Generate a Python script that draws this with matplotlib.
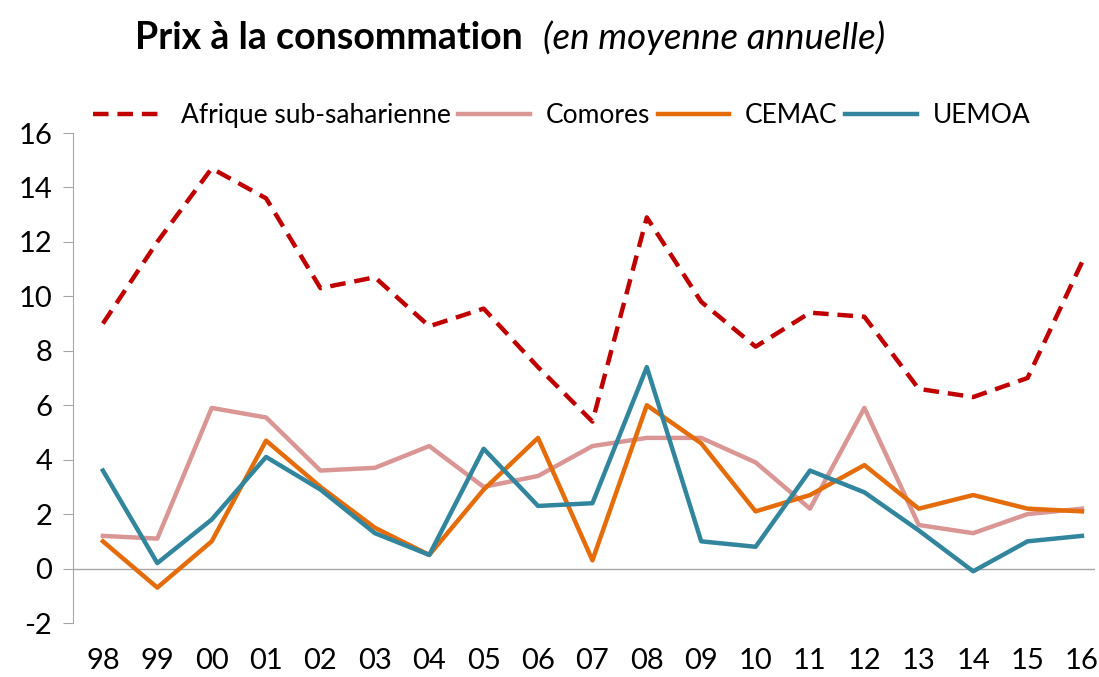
import matplotlib
matplotlib.use('Agg')
import matplotlib.pyplot as plt

plt.rcParams['font.family'] = ['Lato', 'DejaVu Sans']
plt.rcParams['axes.unicode_minus'] = False

years = ['98', '99', '00', '01', '02', '03', '04', '05', '06', '07',
         '08', '09', '10', '11', '12', '13', '14', '15', '16']
afrique = [9.0, 12.0, 14.7, 13.6, 10.3, 10.7, 8.9, 9.55, 7.4, 5.4,
           12.9, 9.8, 8.15, 9.4, 9.25, 6.6, 6.3, 7.0, 11.25]
comores = [1.2, 1.1, 5.9, 5.55, 3.6, 3.7, 4.5, 3.0, 3.4, 4.5,
           4.8, 4.8, 3.9, 2.2, 5.9, 1.6, 1.3, 2.0, 2.2]
cemac = [1.0, -0.7, 1.0, 4.7, 3.0, 1.5, 0.5, 2.9, 4.8, 0.3,
         6.0, 4.6, 2.1, 2.7, 3.8, 2.2, 2.7, 2.2, 2.1]
uemoa = [3.6, 0.2, 1.8, 4.1, 2.9, 1.3, 0.5, 4.4, 2.3, 2.4,
         7.4, 1.0, 0.8, 3.6, 2.8, 1.4, -0.1, 1.0, 1.2]

x = range(len(years))

fig = plt.figure(figsize=(10.99, 6.77), dpi=100)
ax = fig.add_axes([73 / 1099, 1 - 623 / 677, 1022 / 1099, 490 / 677])

ax.axhline(0, color='#a6a6a6', lw=1, zorder=1)

ax.plot(x, afrique, color='#c00000', lw=3.2, dashes=(3.5, 2),
        label='Afrique sub-saharienne', zorder=3)
ax.plot(x, comores, color='#d99694', lw=3.2, label='Comores', zorder=2)
ax.plot(x, cemac, color='#e46c0a', lw=3.2, label='CEMAC', zorder=3)
ax.plot(x, uemoa, color='#31859c', lw=3.2, label='UEMOA', zorder=4)

ax.set_ylim(-2, 16)
ax.set_yticks(range(-2, 17, 2))
ax.set_xlim(-0.55, 18.24)
ax.set_xticks(list(x))
ax.set_xticklabels(years)

for s in ['top', 'right', 'bottom']:
    ax.spines[s].set_visible(False)
ax.spines['left'].set_color('#a6a6a6')
ax.tick_params(axis='y', length=7, color='#a6a6a6', labelsize=21, pad=8)
ax.tick_params(axis='x', length=0, labelsize=21, pad=18)

ax.legend(loc='lower left', bbox_to_anchor=(0.02, 1.01), ncol=4, frameon=False,
          fontsize=19, handlelength=2.7, columnspacing=0.3, handletextpad=0.6,
          borderaxespad=0, borderpad=0)

fig.text(135 / 1099, 1 - 38 / 677, 'Prix à la consommation', fontsize=27,
         fontweight='bold', va='center', ha='left')
fig.text(543 / 1099, 1 - 38 / 677, '(en moyenne annuelle)', fontsize=26.5,
         style='italic', va='center', ha='left')

fig.savefig('out.png', dpi=100)
